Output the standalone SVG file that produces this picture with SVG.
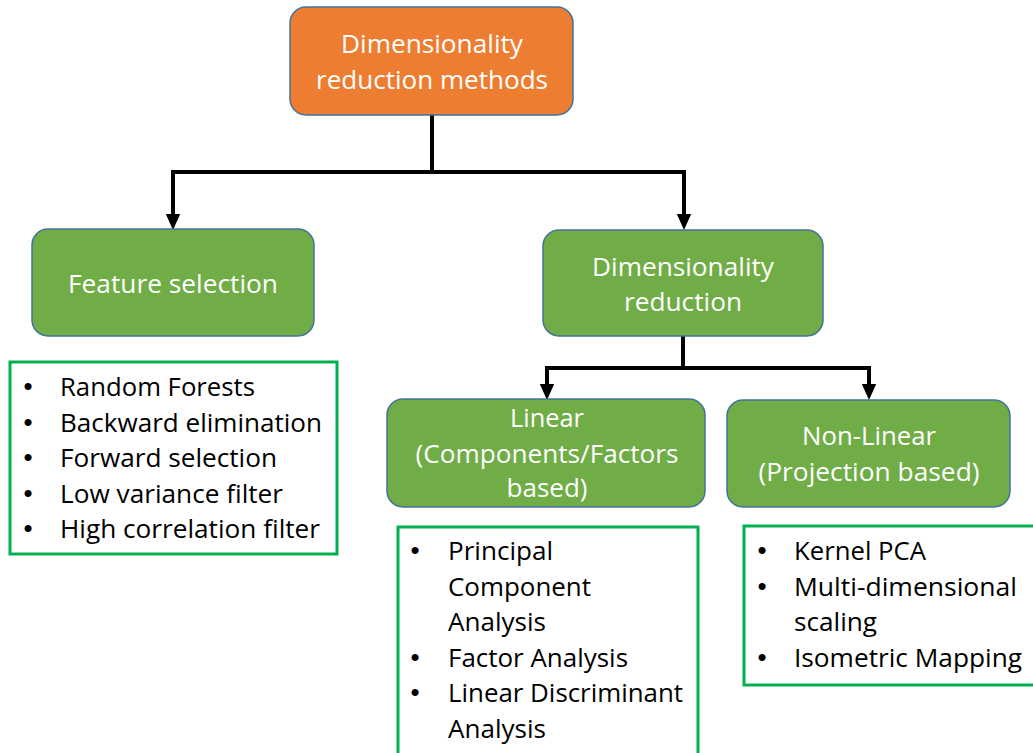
<svg xmlns="http://www.w3.org/2000/svg" width="1033" height="753" viewBox="0 0 1033 753">
<style>
.box{stroke:#41719C;stroke-width:1.5}
.orange{fill:#ED7D31}
.green{fill:#70AD47}
.wt{fill:#FFFFFF;font-family:"Open Sans","Liberation Sans",sans-serif;font-size:25px;text-anchor:middle}
.lst{fill:#FFFFFF;stroke:#00B050;stroke-width:3}
.bt{fill:#000000;font-family:"Open Sans","Liberation Sans",sans-serif;font-size:25px}
.bl{fill:#000000;font-family:"Liberation Sans",sans-serif;font-size:26px;text-anchor:middle}
.conn{fill:none;stroke:#000000;stroke-width:4}
</style>
<defs>
<marker id="ah" markerWidth="4" markerHeight="4" refX="2" refY="2" orient="auto" markerUnits="strokeWidth">
<path d="M0,0.2 L4,2 L0,3.8 Z" fill="#000"/>
</marker>
</defs>
<rect width="1033" height="753" fill="#FFFFFF"/>
<g id="connectors">
<path class="conn" d="M432,115 V172"/>
<path class="conn" d="M173,172 H684"/>
<path class="conn" d="M173,170 V222" marker-end="url(#ah)"/>
<path class="conn" d="M684,170 V222" marker-end="url(#ah)"/>
<path class="conn" d="M683,336 V368"/>
<path class="conn" d="M547,368 H869"/>
<path class="conn" d="M547,366 V392" marker-end="url(#ah)"/>
<path class="conn" d="M869,366 V392" marker-end="url(#ah)"/>
</g>
<g id="root">
<rect class="box orange" x="290" y="7" width="283" height="108" rx="16"/>
<text class="wt" x="432" y="53" textLength="182" lengthAdjust="spacingAndGlyphs">Dimensionality</text>
<text class="wt" x="432" y="89" textLength="232" lengthAdjust="spacingAndGlyphs">reduction methods</text>
</g>
<g id="feature-selection">
<rect class="box green" x="32" y="229" width="282" height="107" rx="16"/>
<text class="wt" x="173" y="293" textLength="210" lengthAdjust="spacingAndGlyphs">Feature selection</text>
</g>
<g id="dim-reduction">
<rect class="box green" x="543" y="230" width="280" height="106" rx="16"/>
<text class="wt" x="683" y="276" textLength="182" lengthAdjust="spacingAndGlyphs">Dimensionality</text>
<text class="wt" x="683" y="311" textLength="118" lengthAdjust="spacingAndGlyphs">reduction</text>
</g>
<g id="linear">
<rect class="box green" x="387" y="399" width="318" height="108" rx="16"/>
<text class="wt" x="547" y="427" textLength="74" lengthAdjust="spacingAndGlyphs">Linear</text>
<text class="wt" x="547" y="463" textLength="263" lengthAdjust="spacingAndGlyphs">(Components/Factors</text>
<text class="wt" x="547" y="497" textLength="81" lengthAdjust="spacingAndGlyphs">based)</text>
</g>
<g id="non-linear">
<rect class="box green" x="727" y="400" width="283" height="107" rx="16"/>
<text class="wt" x="869" y="445" textLength="134" lengthAdjust="spacingAndGlyphs">Non-Linear</text>
<text class="wt" x="869" y="481" textLength="221" lengthAdjust="spacingAndGlyphs">(Projection based)</text>
</g>
<g id="feature-list">
<rect class="lst" x="10" y="362" width="327" height="192"/>
<text class="bl" x="28" y="395">•</text>
<text class="bt" x="60" y="396" textLength="195" lengthAdjust="spacingAndGlyphs">Random Forests</text>
<text class="bl" x="28" y="431">•</text>
<text class="bt" x="60" y="432" textLength="262" lengthAdjust="spacingAndGlyphs">Backward elimination</text>
<text class="bl" x="28" y="466">•</text>
<text class="bt" x="60" y="467" textLength="217" lengthAdjust="spacingAndGlyphs">Forward selection</text>
<text class="bl" x="28" y="502">•</text>
<text class="bt" x="60" y="503" textLength="223" lengthAdjust="spacingAndGlyphs">Low variance filter</text>
<text class="bl" x="28" y="537">•</text>
<text class="bt" x="60" y="538" textLength="260" lengthAdjust="spacingAndGlyphs">High correlation filter</text>
</g>
<g id="linear-list">
<rect class="lst" x="398" y="527" width="300" height="240"/>
<text class="bl" x="415" y="559">•</text>
<text class="bt" x="448" y="560" textLength="105" lengthAdjust="spacingAndGlyphs">Principal</text>
<text class="bt" x="448" y="596" textLength="143" lengthAdjust="spacingAndGlyphs">Component</text>
<text class="bt" x="448" y="631" textLength="98" lengthAdjust="spacingAndGlyphs">Analysis</text>
<text class="bl" x="415" y="666">•</text>
<text class="bt" x="448" y="667" textLength="180" lengthAdjust="spacingAndGlyphs">Factor Analysis</text>
<text class="bl" x="415" y="701">•</text>
<text class="bt" x="448" y="702" textLength="235" lengthAdjust="spacingAndGlyphs">Linear Discriminant</text>
<text class="bt" x="448" y="738" textLength="98" lengthAdjust="spacingAndGlyphs">Analysis</text>
</g>
<g id="nonlinear-list">
<rect class="lst" x="744" y="526" width="300" height="159"/>
<text class="bl" x="762" y="559">•</text>
<text class="bt" x="794" y="560" textLength="132" lengthAdjust="spacingAndGlyphs">Kernel PCA</text>
<text class="bl" x="762" y="595">•</text>
<text class="bt" x="794" y="596" textLength="223" lengthAdjust="spacingAndGlyphs">Multi-dimensional</text>
<text class="bt" x="794" y="631" textLength="83" lengthAdjust="spacingAndGlyphs">scaling</text>
<text class="bl" x="762" y="666">•</text>
<text class="bt" x="794" y="667" textLength="228" lengthAdjust="spacingAndGlyphs">Isometric Mapping</text>
</g>
</svg>
